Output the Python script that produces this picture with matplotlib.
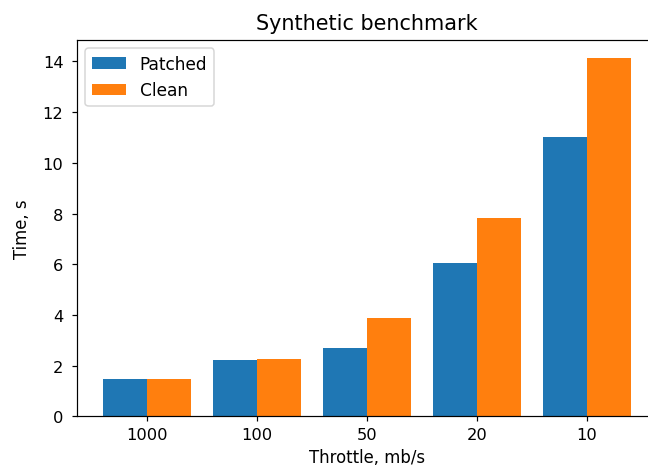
import matplotlib
matplotlib.use("Agg")
import matplotlib.pyplot as plt
import numpy as np

categories = ["1000", "100", "50", "20", "10"]
patched = [1.47, 2.22, 2.70, 6.05, 11.02]
clean = [1.47, 2.28, 3.86, 7.82, 14.15]

fig = plt.figure(figsize=(6.0, 471/108), dpi=108)
ax = fig.add_axes([77/648, 1 - 417.3/471, 580/648, (417.3 - 40.7)/471])

x = np.arange(len(categories))
w = 0.4
ax.bar(x - w/2, patched, w, label="Patched", color="#1f77b4")
ax.bar(x + w/2, clean, w, label="Clean", color="#ff7f0e")
ax.set_xticks(x)
ax.set_xticklabels(categories)
ax.tick_params(labelsize=10.8)
ax.tick_params(axis="y", pad=5.5)
ax.set_xlabel("Throttle, mb/s", fontsize=11)
ax.set_ylabel("Time, s", fontsize=11, labelpad=8)
ax.set_title("Synthetic benchmark", fontsize=13.8, pad=7)
ax.legend(loc="upper left", fontsize=11.3)
ax.spines["right"].set_visible(False)

fig.savefig("out.png", dpi=108)
